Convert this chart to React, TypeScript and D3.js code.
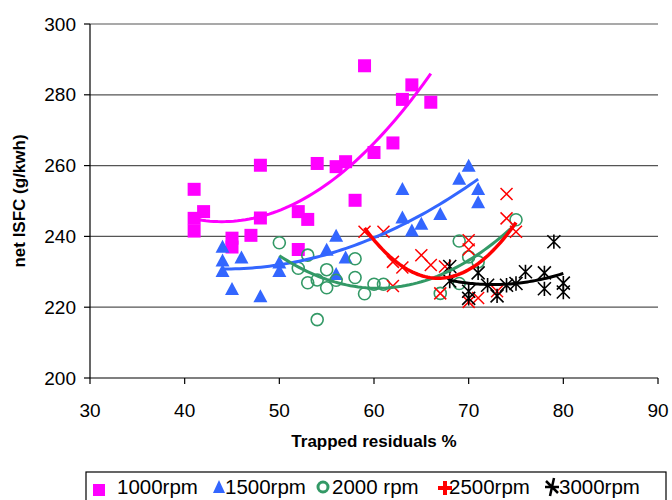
import React from "react";
import * as d3 from "d3";

// ---------- data ----------
const rpm1000X = [41, 41, 41, 42, 45, 45, 47, 48, 48, 52, 52, 53, 54, 56, 57, 58, 59, 60, 62, 63, 64, 66];
const rpm1000Y = [253.3, 245.1, 241.5, 247, 239.5, 237, 240.3, 260.1, 245.2, 247, 236.3, 244.8, 260.6, 259.7, 261.1, 250.2, 288.2, 263.7, 266.4, 278.7, 282.8, 277.9];

const rpm1500X = [44, 44, 44, 45, 46, 48, 50, 50, 55, 56, 56, 57, 63, 63, 64, 65, 67, 69, 70, 71, 71];
const rpm1500Y = [237.2, 233.3, 230.4, 225.3, 234.2, 223.2, 232.8, 230.4, 236.4, 240.3, 229.5, 234.2, 253.5, 245.5, 241.8, 243.7, 246.5, 256.4, 260.1, 253.5, 249.8];

const rpm2000X = [50, 52, 53, 53, 54, 54, 55, 55, 56, 58, 58, 59, 60, 61, 67, 69, 69, 70, 71, 75];
const rpm2000Y = [238.2, 231, 234.7, 226.9, 227.7, 216.5, 230.6, 225.5, 227.6, 233.7, 228.4, 223.8, 226.5, 226.5, 223.9, 226.7, 238.7, 234.2, 232.8, 244.7];

const rpm2500X = [59, 61, 62, 63, 62, 65, 66, 67.5, 67, 70, 70, 70, 71, 73, 74, 74, 75];
const rpm2500Y = [241.3, 241.3, 232.8, 231.2, 226, 234.7, 231.9, 231.5, 223.9, 238.9, 236.3, 221.5, 222.6, 224.5, 252, 245.1, 241.3];

const rpm3000X = [68, 68, 70, 70, 71, 72, 73, 74, 75, 76, 78, 78, 79, 80, 80];
const rpm3000Y = [231.5, 227.4, 224.5, 222.5, 229.7, 226.2, 223.2, 226.2, 226.7, 230, 229.7, 225.2, 238.5, 226.8, 224.3];

const seriesNames = ["1000rpm", "1500rpm", "2000 rpm", "2500rpm", "3000rpm"];
const xTicks = [30, 40, 50, 60, 70, 80, 90];
const yTicks = [200, 220, 240, 260, 280, 300];
const xTitle = "Trapped residuals %";
const yTitle = "net ISFC (g/kwh)";

// ---------- layout ----------
const W = 672, H = 500;
const PL = 90, PR = 658, PT = 24, PB = 378;
const FONT = "'Liberation Sans', Arial, sans-serif";

const x = d3.scaleLinear().domain([30, 90]).range([PL, PR]);
const y = d3.scaleLinear().domain([200, 300]).range([PB, PT]);

const COLORS = ["#FF00FF", "#3366FF", "#339966", "#FF0000", "#000000"];

function quadFit(xs: number[], ys: number[]) {
  // least squares y = a + b x + c x^2
  let s0 = 0, s1 = 0, s2 = 0, s3 = 0, s4 = 0, t0 = 0, t1 = 0, t2 = 0;
  xs.forEach((xv, i) => {
    const yv = ys[i];
    s0 += 1; s1 += xv; s2 += xv * xv; s3 += xv ** 3; s4 += xv ** 4;
    t0 += yv; t1 += xv * yv; t2 += xv * xv * yv;
  });
  const M = [
    [s0, s1, s2, t0],
    [s1, s2, s3, t1],
    [s2, s3, s4, t2],
  ];
  for (let c = 0; c < 3; c++) {
    let p = c;
    for (let r = c + 1; r < 3; r++) if (Math.abs(M[r][c]) > Math.abs(M[p][c])) p = r;
    [M[c], M[p]] = [M[p], M[c]];
    for (let r = 0; r < 3; r++) {
      if (r === c) continue;
      const f = M[r][c] / M[c][c];
      for (let k = c; k < 4; k++) M[r][k] -= f * M[c][k];
    }
  }
  const a = M[0][3] / M[0][0], b = M[1][3] / M[1][1], c2 = M[2][3] / M[2][2];
  return (v: number) => a + b * v + c2 * v * v;
}

function Marker({ kind, cx, cy, color }: { kind: number; cx: number; cy: number; color: string }) {
  if (kind === 0) {
    const s = 13;
    return <rect x={cx - s / 2} y={cy - s / 2} width={s} height={s} fill={color} />;
  }
  if (kind === 1) {
    const w = 14, h = 13;
    return <path d={`M${cx},${cy - h / 2} L${cx + w / 2},${cy + h / 2} L${cx - w / 2},${cy + h / 2} Z`} fill={color} />;
  }
  if (kind === 2) {
    return <circle cx={cx} cy={cy} r={6} fill="none" stroke={color} strokeWidth={1.6} />;
  }
  if (kind === 3) {
    const r = 6;
    return (
      <path d={`M${cx - r},${cy - r} L${cx + r},${cy + r} M${cx - r},${cy + r} L${cx + r},${cy - r}`} stroke={color} strokeWidth={1.5} fill="none" />
    );
  }
  const r = 6.5;
  return (
    <path
      d={`M${cx - r},${cy - r} L${cx + r},${cy + r} M${cx - r},${cy + r} L${cx + r},${cy - r} M${cx},${cy - r * 1.1} L${cx},${cy + r * 1.1}`}
      stroke={color}
      strokeWidth={1.6}
      fill="none"
    />
  );
}

export default function App() {
  const series = [
    { xs: rpm1000X, ys: rpm1000Y },
    { xs: rpm1500X, ys: rpm1500Y },
    { xs: rpm2000X, ys: rpm2000Y },
    { xs: rpm2500X, ys: rpm2500Y },
    { xs: rpm3000X, ys: rpm3000Y },
  ];

  const line = d3.line<[number, number]>().x((d) => x(d[0])).y((d) => y(d[1])).curve(d3.curveLinear);

  const trends = series.map((s) => {
    const f = quadFit(s.xs, s.ys);
    const [lo, hi] = d3.extent(s.xs) as [number, number];
    const pts: [number, number][] = d3.range(0, 61).map((i) => {
      const v = lo + ((hi - lo) * i) / 60;
      return [v, f(v)];
    });
    return line(pts) || "";
  });

  // legend layout
  const legendItems = [
    { mx: 99, tx: 117 },
    { mx: 219, tx: 225 },
    { mx: 323, tx: 332 },
    { mx: 445, tx: 449 },
    { mx: 552, tx: 559 },
  ];
  const LY = 487;

  return (
    <svg width={W} height={H} style={{ position: "absolute", left: 0, top: 0, background: "#fff" }} fontFamily={FONT}>
      <rect x={0} y={0} width={W} height={H} fill="#fff" />
      {/* gridlines */}
      {yTicks.filter((t) => t !== 200).map((t) => (
        <line key={t} x1={PL} x2={PR} y1={y(t)} y2={y(t)} stroke="#555" strokeWidth={1.2} />
      ))}
      {/* axes */}
      <line x1={PL} x2={PL} y1={PT} y2={PB} stroke="#000" strokeWidth={1.2} />
      <line x1={PL} x2={PR} y1={PB} y2={PB} stroke="#000" strokeWidth={1.2} />
      {yTicks.map((t) => (
        <g key={t}>
          <line x1={PL - 6} x2={PL} y1={y(t)} y2={y(t)} stroke="#000" strokeWidth={1.2} />
          <text x={PL - 14} y={y(t)} dy="0.35em" textAnchor="end" fontSize={19} fill="#000">
            {t}
          </text>
        </g>
      ))}
      {xTicks.map((t) => (
        <g key={t}>
          <line x1={x(t)} x2={x(t)} y1={PB} y2={PB + 6} stroke="#000" strokeWidth={1.2} />
          <text x={x(t)} y={PB + 32} dy="0.35em" textAnchor="middle" fontSize={19} fill="#000">
            {t}
          </text>
        </g>
      ))}
      <text x={(PL + PR) / 2} y={441} dy="0.35em" textAnchor="middle" fontSize={17} fontWeight="bold">
        {xTitle}
      </text>
      <text transform={`translate(19,${(PT + PB) / 2}) rotate(-90)`} dy="0.35em" textAnchor="middle" fontSize={17} fontWeight="bold">
        {yTitle}
      </text>

      {/* markers */}
      {series.map((s, si) => (
        <g key={si}>
          {s.xs.map((xv, i) => (
            <Marker key={i} kind={si} cx={x(xv)} cy={y(s.ys[i])} color={COLORS[si]} />
          ))}
        </g>
      ))}
      {/* trendlines */}
      {trends.map((d, i) => (
        <path key={i} d={d} fill="none" stroke={COLORS[i]} strokeWidth={i === 3 ? 3.5 : 3} />
      ))}

      {/* legend */}
      <rect x={86} y={472} width={580} height={40} fill="#fff" stroke="#000" strokeWidth={1.2} />
      {legendItems.map((it, i) => (
        <g key={i}>
          {i === 0 && <rect x={it.mx - 6} y={LY - 3} width={12} height={12} fill={COLORS[0]} />}
          {i === 1 && <path d={`M${it.mx},${LY - 7} L${it.mx + 6},${LY + 6} L${it.mx - 6},${LY + 6} Z`} fill={COLORS[1]} />}
          {i === 2 && <circle cx={it.mx} cy={LY} r={5} fill="none" stroke={COLORS[2]} strokeWidth={3} />}
          {i === 3 && (
            <path d={`M${it.mx - 7},${LY + 1} L${it.mx + 7},${LY + 1} M${it.mx},${LY - 6} L${it.mx},${LY + 8}`} stroke={COLORS[3]} strokeWidth={4} />
          )}
          {i === 4 && (
            <path
              d={`M${it.mx - 7},${LY} L${it.mx + 7},${LY} M${it.mx - 2},${LY + 9} L${it.mx + 2},${LY - 9} M${it.mx - 6},${LY - 6} L${it.mx + 6},${LY + 6}`}
              stroke="#000"
              strokeWidth={2.5}
            />
          )}
          <text x={it.tx} y={LY} dy="0.35em" fontSize={20.5} fill="#000">
            {seriesNames[i]}
          </text>
        </g>
      ))}
    </svg>
  );
}
